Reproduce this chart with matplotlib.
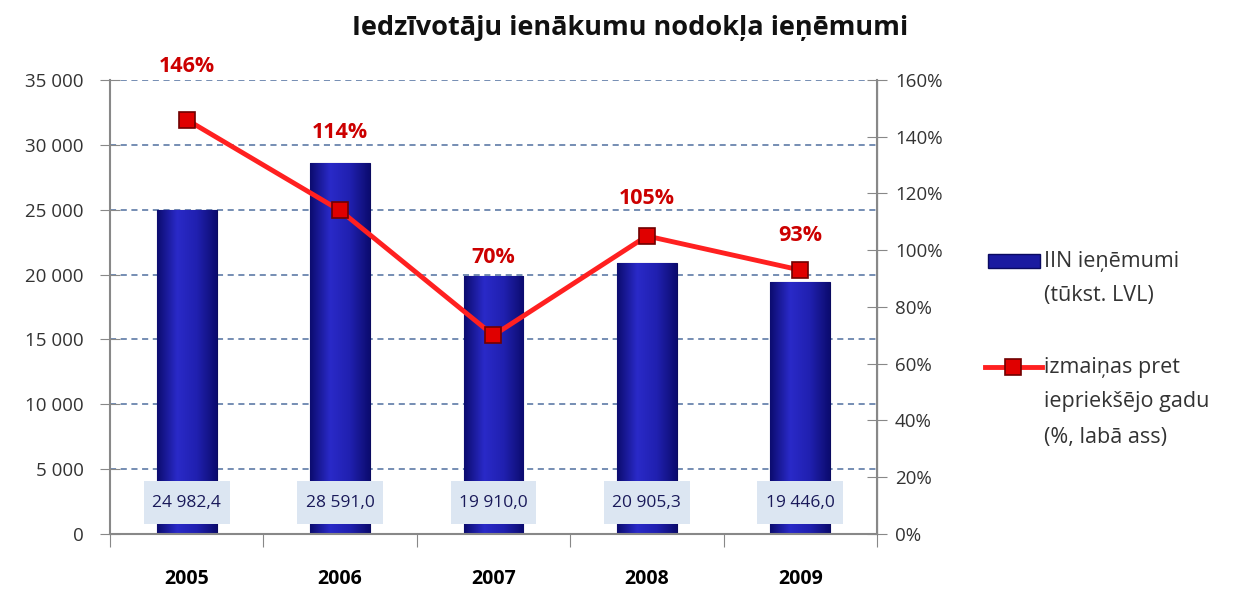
"""
Iedzīvotāju ienākumu nodokļa ieņēmumi - bar + line chart
"""
import matplotlib
matplotlib.use('Agg')
import matplotlib.pyplot as plt
from matplotlib.lines import Line2D
from matplotlib.patches import Rectangle
from matplotlib import font_manager
import numpy as np

years = ['2005', '2006', '2007', '2008', '2009']
revenue = [24982.4, 28591.0, 19910.0, 20905.3, 19446.0]
revenue_labels = ['24 982,4', '28 591,0', '19 910,0', '20 905,3', '19 446,0']
change_pct = [146, 114, 70, 105, 93]
pct_label_offsets = [38, 56, 56, 27, 25]   # pt above the marker

plt.rcParams['font.family'] = ['Open Sans', 'DejaVu Sans']

# a narrower face for the value boxes, if there is one
installed = {f.name for f in font_manager.fontManager.ttflist}
if 'Liberation Sans Narrow' in installed:
    box_font, box_size = ['Liberation Sans Narrow'], 15
else:
    box_font, box_size = ['Open Sans'], 12.5

W, H = 1248, 592
fig = plt.figure(figsize=(W / 100, H / 100), dpi=100)
ax = fig.add_axes([0.0881, 0.098, 0.6146, 0.767])
ax2 = ax.twinx()

x = np.arange(len(years))
bar_w = 0.39

# bars with a simple horizontal gradient
cmap = matplotlib.colors.LinearSegmentedColormap.from_list(
    'bar', ['#0c0c70', '#2a2ac8', '#2020b0', '#0c0c70'])
grad = np.linspace(0, 1, 64).reshape(1, -1)
bars = ax.bar(x, revenue, width=bar_w, color='#1a1aa0', edgecolor='#0a0a60',
              linewidth=0.8, zorder=2)
for b in bars:
    im = ax.imshow(grad, cmap=cmap, aspect='auto', zorder=2.1,
                   extent=[b.get_x(), b.get_x() + b.get_width(), 0, b.get_height()])
    im.set_clip_path(b)

ax.set_xlim(-0.5, len(years) - 0.5)
ax.set_ylim(0, 35000)
ax.set_yticks(np.arange(0, 35001, 5000))
ax.set_yticklabels([f'{v:,}'.replace(',', ' ') for v in range(0, 35001, 5000)])
ax.yaxis.grid(True, linestyle=(0, (4, 3)), color='#4f6f9f', linewidth=1.1, zorder=0)
ax.set_axisbelow(True)

ax.set_xticks(np.arange(-0.5, len(years), 1))
ax.set_xticklabels([])
ax.set_xticks(x, minor=True)
ax.set_xticklabels(years, minor=True, fontsize=14, fontweight='bold')
ax.tick_params(axis='x', which='major', length=9, direction='out', color='#888888')
ax.tick_params(axis='x', which='minor', length=0, pad=25)
ax.tick_params(axis='y', length=14, direction='inout', color='#888888',
               labelsize=13.5, labelcolor='#333333', pad=12)

ax.spines['top'].set_visible(False)
ax2.spines['top'].set_visible(False)
for sp in ['left', 'bottom']:
    ax.spines[sp].set_color('#888888')
    ax.spines[sp].set_linewidth(1.5)
ax2.spines['right'].set_color('#888888')
ax2.spines['right'].set_linewidth(1.5)
ax2.spines['left'].set_visible(False)
ax2.spines['bottom'].set_visible(False)

# value boxes near the bottom (box size in axis units: ~79 x 43 px)
box_w = 0.515 if box_size == 15 else 0.56
box_h, box_y = 3315, 2390
for xi, lab in zip(x, revenue_labels):
    ax.add_patch(Rectangle((xi - box_w / 2, box_y - box_h / 2), box_w, box_h,
                           facecolor='#dce6f2', edgecolor='none', zorder=3))
    ax.text(xi, box_y, lab, ha='center', va='center', fontsize=box_size,
            family=box_font, color='#1a1a5a', zorder=4)

# line on right axis
ax2.plot(x, change_pct, color='#ff2020', linewidth=3.5, marker='s', markersize=11,
         markerfacecolor='#e00000', markeredgecolor='#700000', markeredgewidth=1.2,
         zorder=5)
ax2.set_ylim(0, 160)
ax2.set_yticks(np.arange(0, 161, 20))
ax2.set_yticklabels([f'{v}%' for v in range(0, 161, 20)])
ax2.tick_params(axis='y', length=14, direction='inout', color='#888888',
                labelsize=13.5, labelcolor='#333333', pad=6)
for xi, v, off in zip(x, change_pct, pct_label_offsets):
    ax2.annotate(f'{v}%', (xi, v), xytext=(0, off), textcoords='offset points',
                 ha='center', va='center', fontsize=15.5, fontweight='bold',
                 color='#cc0000', annotation_clip=False)

fig.text(0.505, 0.953, 'Iedzīvotāju ienākumu nodokļa ieņēmumi', ha='center',
         va='center', fontsize=19.5, fontweight='bold', color='#111111')

# legend drawn by hand so the handles line up with the first text line
fig.add_artist(Rectangle((988 / W, 1 - 268 / H), 52 / W, 14 / H,
                         transform=fig.transFigure, facecolor='#1a1aa0',
                         edgecolor='#0a0a60', linewidth=1))
fig.add_artist(Line2D([985 / W, 1042 / W], [1 - 367 / H] * 2, transform=fig.transFigure,
                      color='#ff2020', linewidth=3.5))
fig.add_artist(Line2D([1013 / W], [1 - 367 / H], transform=fig.transFigure,
                      marker='s', markersize=11, markerfacecolor='#e00000',
                      markeredgecolor='#700000', markeredgewidth=1.2))
leg_lines = [('IIN ieņēmumi', 262), ('(tūkst. LVL)', 296),
             ('izmaiņas pret', 367), ('iepriekšējo gadu', 402), ('(%, labā ass)', 437)]
for txt, yp in leg_lines:
    fig.text(1044 / W, 1 - yp / H, txt, ha='left', va='center', fontsize=15.5,
             color='#333333')

fig.savefig('out.png', dpi=100)
